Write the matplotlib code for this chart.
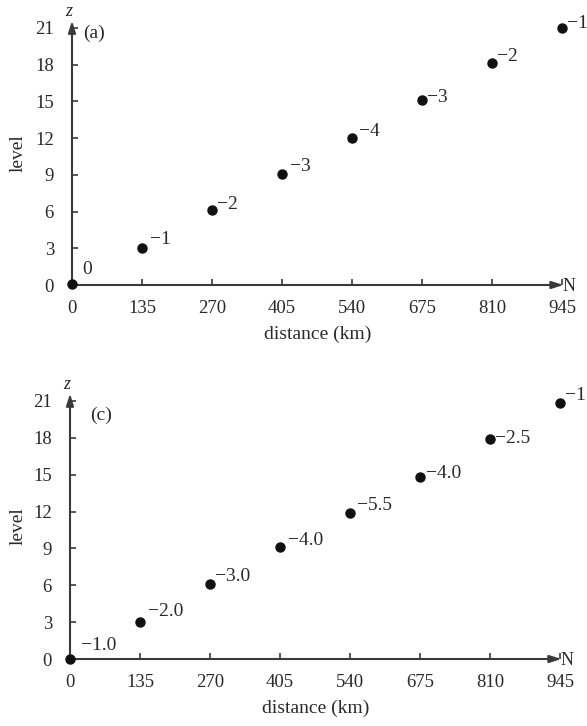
import matplotlib
matplotlib.use("Agg")
import matplotlib.pyplot as plt

plt.rcParams['font.family'] = ['Liberation Serif', 'DejaVu Serif']

# ---- data ----
distance = [0, 135, 270, 405, 540, 675, 810, 945]
xticks = [0, 135, 270, 405, 540, 675, 810, 945]
yticks = [0, 3, 6, 9, 12, 15, 18, 21]

level_a = [0.1, 3.0, 6.1, 9.1, 12.0, 15.1, 18.1, 21.0]
labels_a = ["0", "\u22121", "\u22122", "\u22123", "\u22124", "\u22123", "\u22122", "\u22121"]

level_c = [0.0, 3.0, 6.1, 9.1, 11.9, 14.8, 17.9, 20.8]
labels_c = ["\u22121.0", "\u22122.0", "\u22123.0", "\u22124.0", "\u22125.5", "\u22124.0", "\u22122.5", "\u22121"]

panel_tags = ["(a)", "(c)"]

# label offsets in pixels (styling)
offs_a = [(10, 14), (8, 9), (5, 6), (8, 7), (7, 7), (5, 3), (5, 7), (5, 5)]
offs_c = [(11, 13), (8, 11), (5, 8), (8, 7), (7, 7), (6, 4), (5, 1), (5, 8)]

W, H = 587, 726
fig = plt.figure(figsize=(W / 100, H / 100), dpi=100)

AX_COL = '#3a3a3a'
TXT_COL = '#2a2a2a'


def make_panel(left_px, axis_y_px, top21_px, levels, labels, offs, tag, tag_px):
    xmax = 948
    ymax = 21.6
    px_per_x = 70 / 135
    px_per_y = (axis_y_px - top21_px) / 21
    width = xmax * px_per_x
    height = ymax * px_per_y
    ax = fig.add_axes([left_px / W, (H - axis_y_px) / H, width / W, height / H])
    ax.set_xlim(0, xmax)
    ax.set_ylim(0, ymax)
    for s in ['top', 'right', 'left', 'bottom']:
        ax.spines[s].set_visible(False)
    ax.patch.set_alpha(0)
    # axes with arrows
    ax.annotate('', xy=(xmax, 0), xytext=(0, 0),
                arrowprops=dict(arrowstyle='-|>,head_length=0.7,head_width=0.22',
                                color=AX_COL, lw=1.5, shrinkA=0, shrinkB=0),
                annotation_clip=False)
    ax.annotate('', xy=(0, ymax), xytext=(0, 0),
                arrowprops=dict(arrowstyle='-|>,head_length=0.7,head_width=0.22',
                                color=AX_COL, lw=1.5, shrinkA=0, shrinkB=0),
                annotation_clip=False)
    ax.set_xticks(xticks)
    ax.set_xticklabels([str(v) for v in xticks])
    ax.set_yticks(yticks)
    ax.set_yticklabels([str(v) for v in yticks])
    ax.tick_params(axis='both', direction='in', length=4, width=1.2, color=AX_COL,
                   labelsize=13.5, labelcolor=TXT_COL)
    ax.tick_params(axis='x', pad=11)
    ax.tick_params(axis='y', pad=13)
    ax.plot(distance, levels, 'o', color='#111111', ms=6.5, clip_on=False, zorder=5)
    for x, y, lab, (dx, dy) in zip(distance, levels, labels, offs):
        ax.annotate(lab, (x, y), xytext=(dx * 0.72, dy * 0.72), textcoords='offset points',
                    ha='left', va='center', fontsize=14, color=TXT_COL,
                    annotation_clip=False)
    ax.set_xlabel('distance (km)', fontsize=14, color=TXT_COL, labelpad=6)
    ax.set_ylabel('level', fontsize=14, color=TXT_COL, va='center')
    ax.yaxis.set_label_coords((18 - left_px) / width, 0.5)
    # tag position given in pixels -> data
    tx = (tag_px[0] - left_px) / px_per_x
    ty = (axis_y_px - tag_px[1]) / px_per_y
    ax.text(tx, ty, tag, fontsize=14, color=TXT_COL, ha='left', va='center')
    ax.text(-6, ymax + 0.75, 'z', fontsize=13, style='italic', color=TXT_COL,
            ha='center', va='center', clip_on=False)
    ax.text(xmax + 10, -0.1, 'N', fontsize=13, color=TXT_COL, ha='center', va='center',
            clip_on=False)
    return ax


make_panel(72, 285, 28, level_a, labels_a, offs_a, panel_tags[0], (83, 33))
make_panel(70, 659, 401, level_c, labels_c, offs_c, panel_tags[1], (90, 415))

fig.savefig('out.png', dpi=100)
